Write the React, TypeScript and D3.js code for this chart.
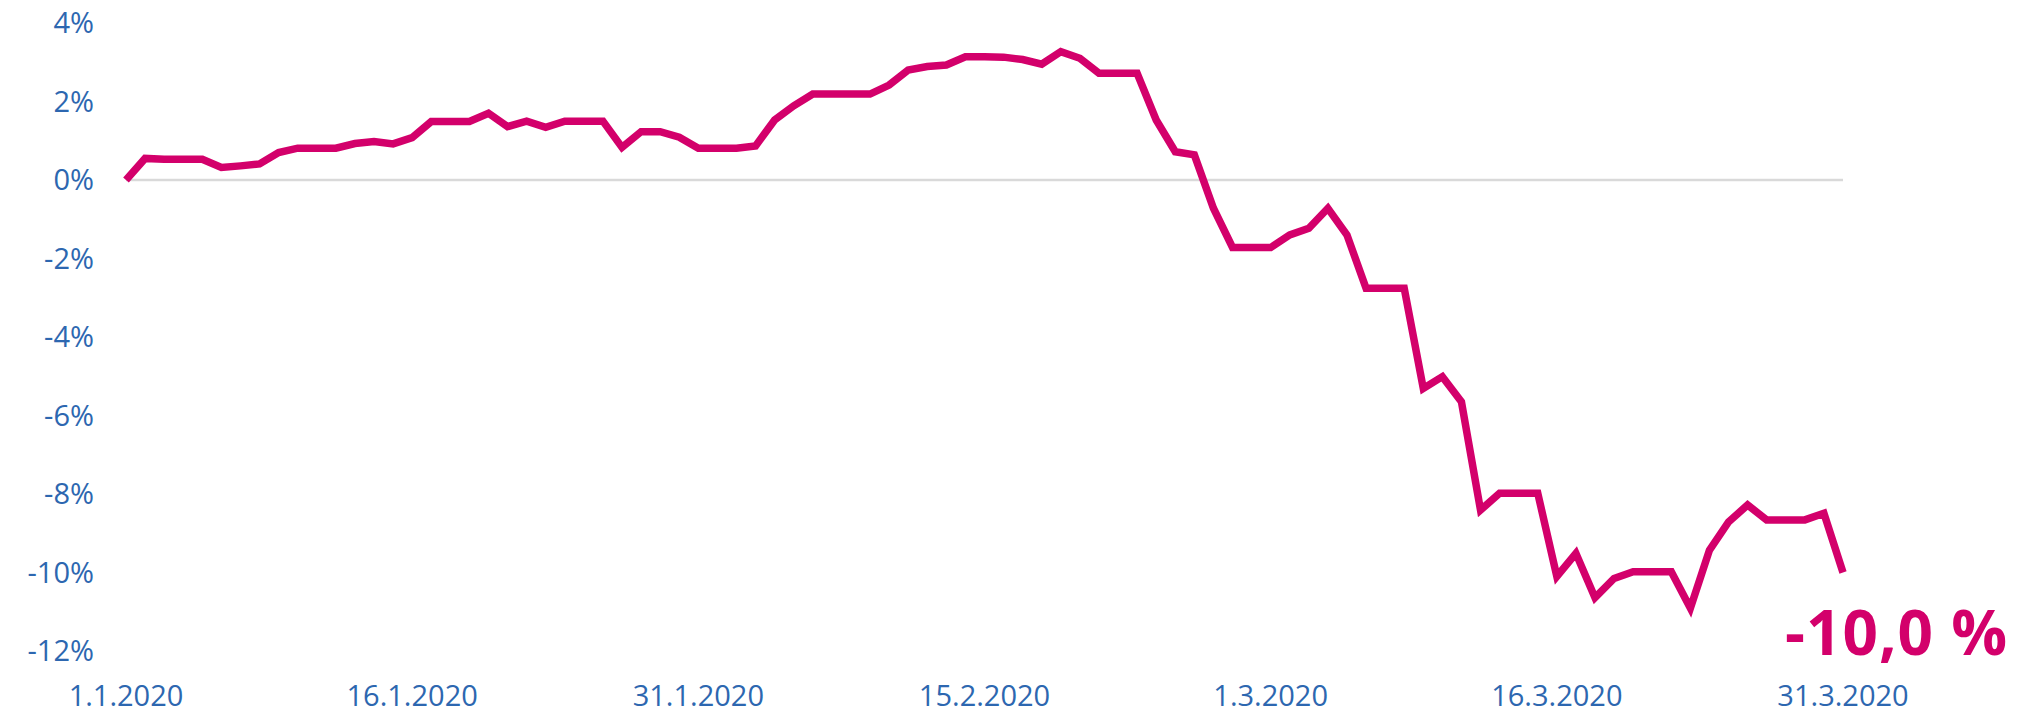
import React from "react";
import * as d3 from "d3";

const startDate = new Date(2020, 0, 1);
const endDate = new Date(2020, 2, 31);

// daily change (%) from 1.1.2020 to 31.3.2020
const values: number[] = [
  0.0, 0.55, 0.53, 0.53, 0.53, 0.32, 0.36, 0.41, 0.7, 0.81,
  0.81, 0.81, 0.93, 0.98, 0.92, 1.08, 1.49, 1.49, 1.49, 1.7,
  1.36, 1.5, 1.34, 1.5, 1.5, 1.5, 0.83, 1.23, 1.23, 1.09,
  0.81, 0.81, 0.81, 0.87, 1.53, 1.89, 2.19, 2.19, 2.19, 2.19,
  2.42, 2.8, 2.89, 2.93, 3.14, 3.14, 3.13, 3.07, 2.95, 3.27,
  3.1, 2.72, 2.72, 2.72, 1.53, 0.72, 0.64, -0.72, -1.72, -1.72,
  -1.72, -1.4, -1.23, -0.72, -1.4, -2.76, -2.76, -2.76, -5.31, -5.01,
  -5.65, -8.41, -7.98, -7.98, -7.98, -10.1, -9.51, -10.64, -10.15, -9.98,
  -9.98, -9.98, -10.91, -9.43, -8.71, -8.28, -8.66, -8.66, -8.66, -8.49,
  -10.0,
];

const yTicks: number[] = [4, 2, 0, -2, -4, -6, -8, -10, -12];
const xTickDates: Date[] = [
  new Date(2020, 0, 1),
  new Date(2020, 0, 16),
  new Date(2020, 0, 31),
  new Date(2020, 1, 15),
  new Date(2020, 2, 1),
  new Date(2020, 2, 16),
  new Date(2020, 2, 31),
];
const endLabel = "-10,0 %";

const W = 2022;
const H = 713;
const LINE_COLOR = "#d3006b";
const TEXT_COLOR = "#2d67b0";
const FONT = "'Open Sans', 'Noto Sans', sans-serif";

export default function App() {
  const days = d3.timeDay.range(startDate, d3.timeDay.offset(endDate, 1));
  const data = values.map((v, i) => ({ date: days[i], value: v }));

  const x = d3.scaleTime().domain([startDate, endDate]).range([126, 1843]);
  const y = d3.scaleLinear().domain([-12, 4]).range([651, 23]);

  const line = d3
    .line<{ date: Date; value: number }>()
    .x((d) => x(d.date))
    .y((d) => y(d.value));

  const fmtDate = (d: Date) =>
    `${d.getDate()}.${d.getMonth() + 1}.${d.getFullYear()}`;

  return (
    <svg
      width={W}
      height={H}
      style={{ position: "absolute", left: 0, top: 0, display: "block", background: "#fff" }}
      fontFamily={FONT}
    >
      <line
        x1={x(startDate)}
        x2={x(endDate)}
        y1={y(0)}
        y2={y(0)}
        stroke="#d9d9d9"
        strokeWidth={2.5}
      />
      {yTicks.map((t) => (
        <text
          key={t}
          x={94}
          y={y(t)}
          dy="0.357em"
          textAnchor="end"
          fontSize={29}
          fill={TEXT_COLOR}
        >
          {`${t}%`}
        </text>
      ))}
      {xTickDates.map((d) => (
        <text
          key={d.getTime()}
          x={x(d)}
          y={706}
          textAnchor="middle"
          fontSize={29}
          fill={TEXT_COLOR}
        >
          {fmtDate(d)}
        </text>
      ))}
      <path
        d={line(data) || ""}
        fill="none"
        stroke={LINE_COLOR}
        strokeWidth={7.5}
        strokeLinejoin="miter"
        strokeLinecap="butt"
      />
      <text
        x={2008}
        y={655}
        textAnchor="end"
        fontSize={62}
        fontWeight="bold"
        fill={LINE_COLOR}
        letterSpacing={1}
      >
        {endLabel}
      </text>
    </svg>
  );
}
